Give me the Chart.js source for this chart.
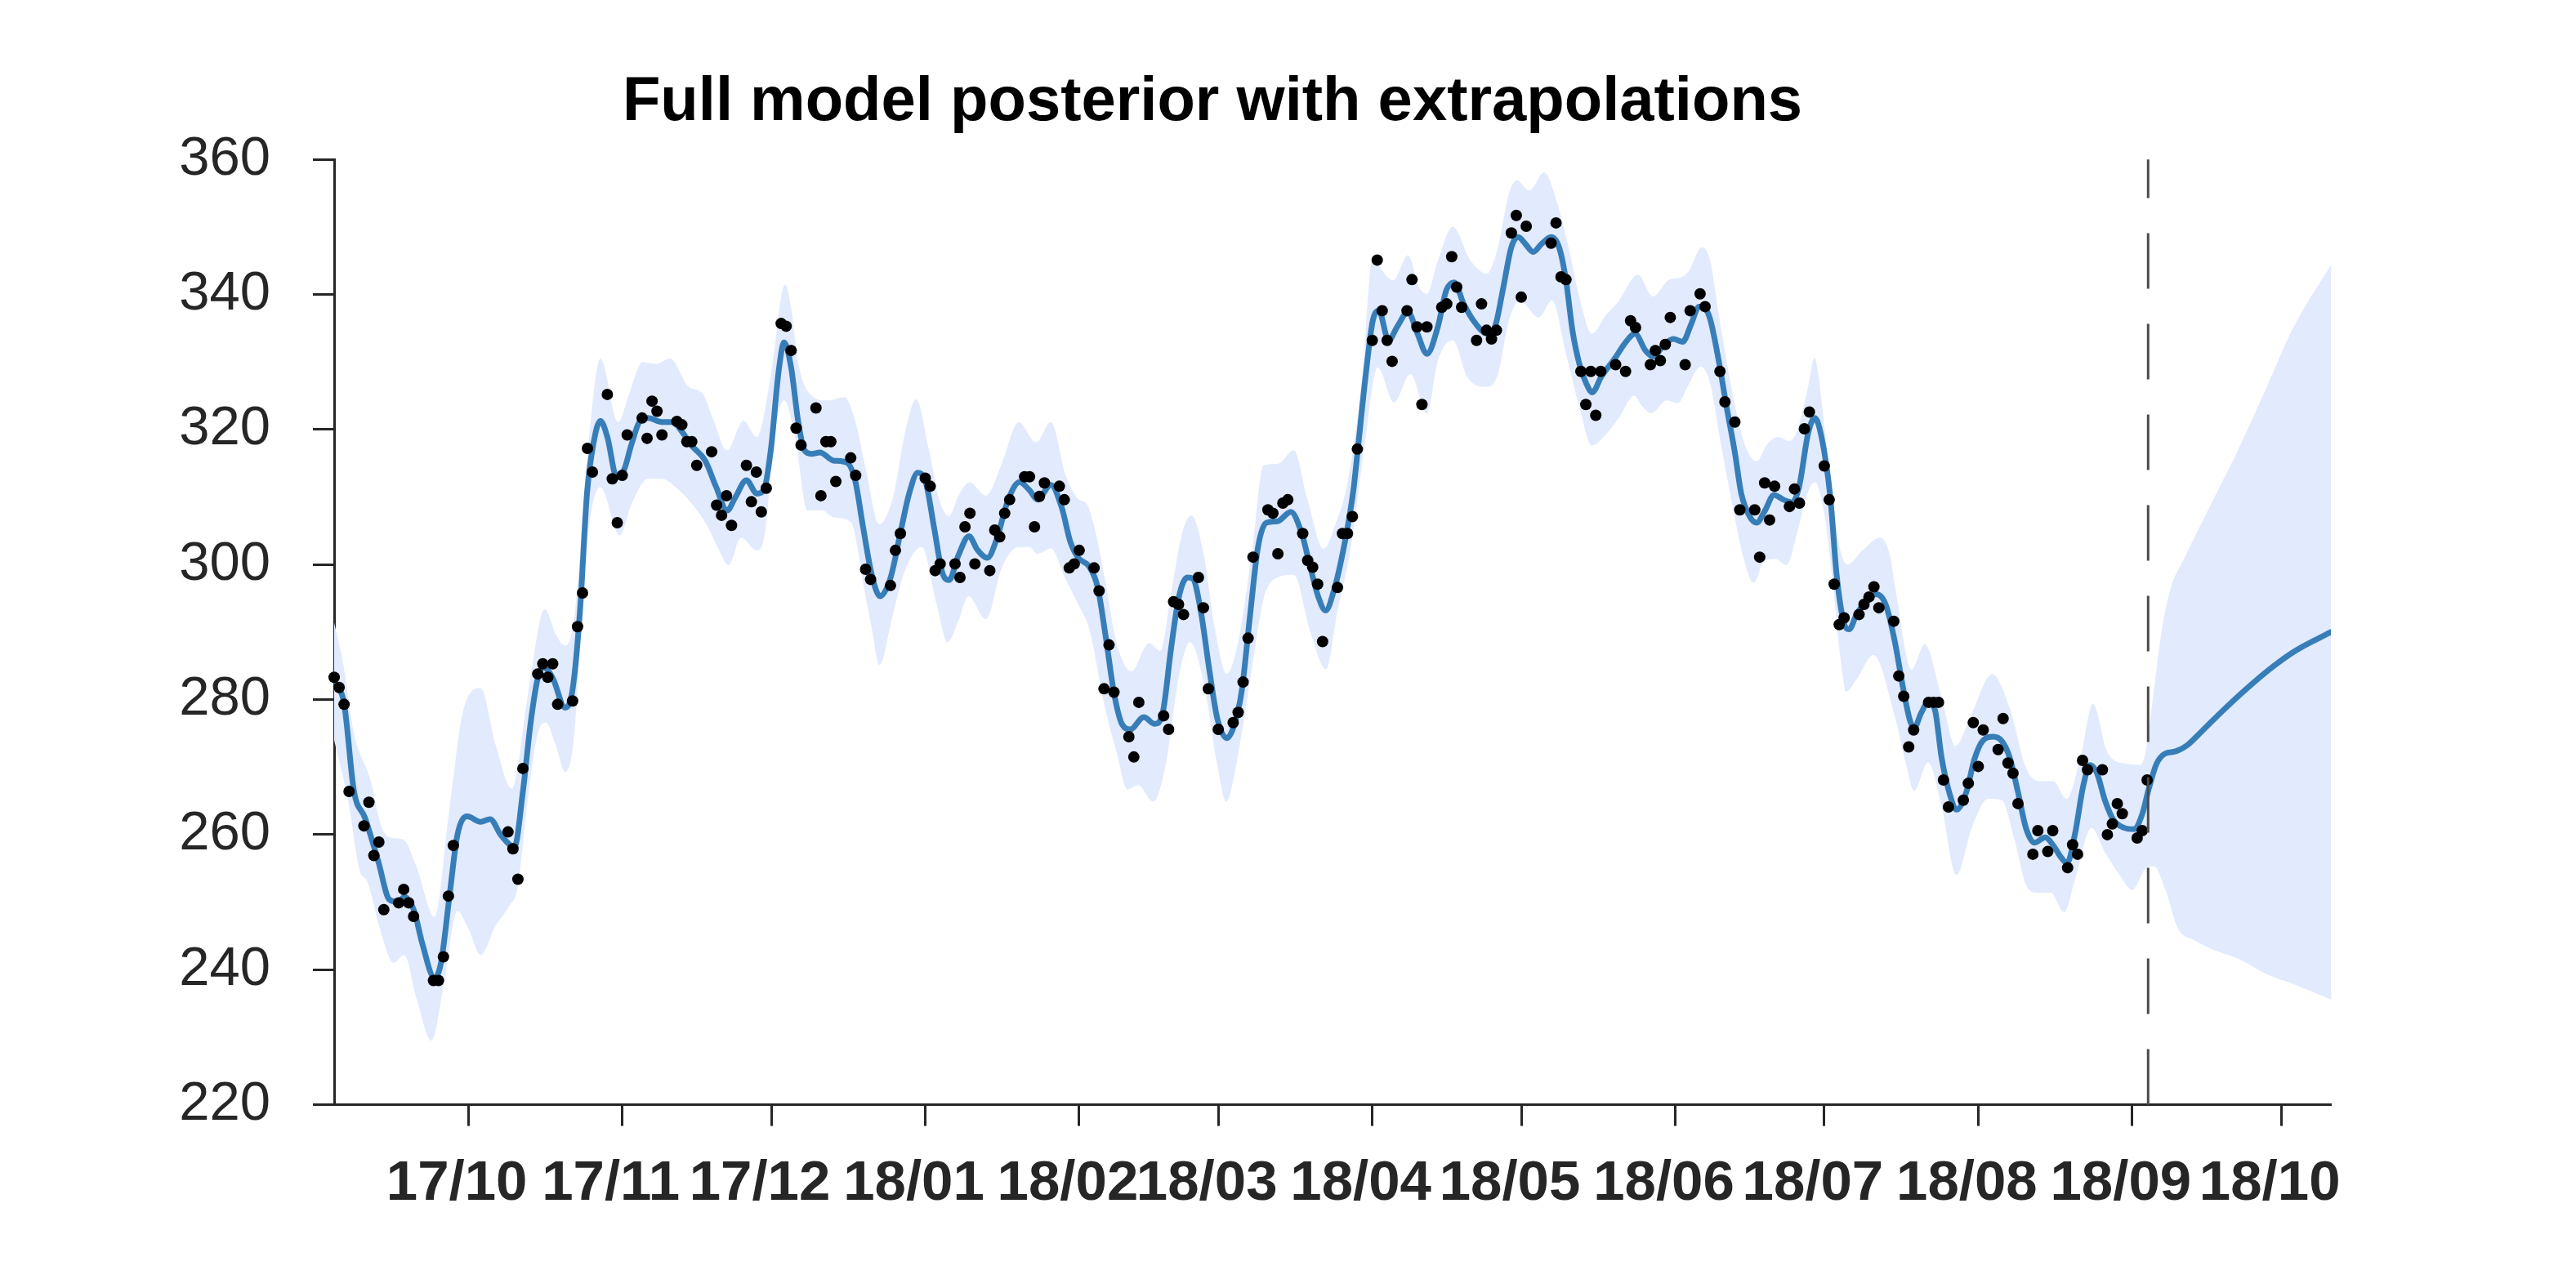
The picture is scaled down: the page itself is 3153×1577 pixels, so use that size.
<!DOCTYPE html>
<html><head><meta charset="utf-8">
<script src="https://cdn.jsdelivr.net/npm/chart.js@4.4.1/dist/chart.umd.min.js"></script>
<style>html,body{margin:0;padding:0;background:#fff;overflow:hidden}canvas{display:block}</style>
</head><body>
<canvas id="c" width="3153" height="1577" style="width:3153px;height:1577px"></canvas>
<script>
// x values are days since 2017-09-04
const titleText = 'Full model posterior with extrapolations';
const monthTickDays = [27, 58, 88, 119, 150, 178, 209, 239, 270, 300, 331, 362, 392];
const monthTickLabels = ['17/10','17/11','17/12','18/01','18/02','18/03','18/04','18/05','18/06','18/07','18/08','18/09','18/10'];
const yMin = 220, yMax = 360, yStep = 20;
const xMin = 0, xMax = 402;
const forecastStartDay = 365.2;

const observations = [
[0,283.3],[1,281.8],[2,279.3],[3,266.4],[6,261.3],[7,264.8],[8,256.9],[9,258.9],[10,248.9],[13,249.9],[14,251.9],[15,249.9],[16,247.9],
[20,238.4],[21,238.4],[22,241.9],[23,250.9],[24,258.4],[35,260.4],[36,257.9],[37,253.4],[38,269.8],[41,283.8],[42,285.3],[43,283.3],[44,285.3],[45,279.3],
[48,279.8],[49,290.8],[50,295.8],[51,317.2],[52,313.7],[55,325.2],[56,312.7],[57,306.2],[58,313.2],[59,319.2],[62,321.7],[63,318.7],[64,324.2],[65,322.7],[66,319.2],
[69,321.2],[70,320.7],[71,318.2],[72,318.2],[73,314.7],[76,316.7],[77,308.8],[78,307.3],[79,310.2],[80,305.8],[83,314.7],[84,309.3],[85,313.7],[86,307.8],[87,311.3],
[90,335.7],[91,335.3],[92,331.7],[93,320.2],[94,317.7],[97,323.2],[98,310.2],[99,318.2],[100,318.2],[101,312.3],[104,315.8],[105,313.2],[107,299.3],[108,297.8],
[112,296.9],[113,302.1],[114,304.6],[119,312.8],[120,311.6],[121,299.1],[122,300.1],[125,300.1],[126,298.1],[127,305.6],[128,307.6],[129,300.1],
[132,299.1],[133,305.1],[134,304.1],[135,307.6],[136,309.6],[139,313.0],[140,313.0],[141,305.6],[142,310.1],[143,312.1],[146,311.6],[147,309.6],[148,299.5],[149,300.1],[150,302.1],
[153,299.5],[154,296.1],[155,281.6],[156,288.1],[157,281.1],[160,274.5],[161,271.5],[162,279.6],[167,277.6],[168,275.6],[169,294.5],[170,294.1],[171,292.6],
[174,298.1],[175,293.6],[176,281.6],[178,275.6],[181,276.6],[182,278.1],[183,282.6],[184,289.1],[185,301.1],[188,308.1],[189,307.6],[190,301.6],[191,309.1],[192,309.6],
[195,304.6],[196,300.6],[197,299.6],[198,297.1],[199,288.6],[202,296.6],[203,304.6],[204,304.6],[205,307.1],[206,317.1],[209,333.2],[210,345.1],[211,337.6],[212,333.2],[213,330.1],
[216,337.6],[217,342.2],[218,335.2],[219,323.7],[220,335.2],[223,338.1],[224,338.6],[225,345.6],[226,341.1],[227,338.1],[230,333.2],[231,338.6],[232,334.7],[233,333.4],[234,334.7],
[237,349.1],[238,351.7],[239,339.6],[240,350.1],[245,347.6],[246,350.6],[247,342.6],[248,342.2],[251,328.6],[252,323.7],[253,328.6],[254,322.1],[255,328.6],
[258,329.6],[260,328.6],[261,336.1],[262,335.1],[265,329.6],[266,331.7],[267,330.2],[268,332.6],[269,336.6],[272,329.6],[273,337.6],[275,340.1],[276,338.2],
[279,328.6],[280,324.1],[282,321.1],[283,308.1],[286,308.1],[287,301.1],[288,312.1],[289,306.6],[290,311.6],[293,308.6],[294,311.2],[295,309.1],[296,320.1],[297,322.6],
[300,314.6],[301,309.6],[302,297.1],[303,291.1],[304,292.1],[307,292.6],[308,294.1],[309,295.2],[310,296.7],[311,293.6],[314,291.6],[315,283.5],[316,280.5],[317,273.0],[318,275.5],
[321,279.6],[322,279.6],[323,279.6],[324,268.1],[325,264.1],[328,265.1],[329,267.6],[330,276.6],[331,270.1],[332,275.5],[335,272.6],[336,277.2],[337,270.6],[338,269.1],[339,264.6],
[342,257.1],[343,260.6],[345,257.5],[346,260.6],[349,255.1],[350,258.5],[351,257.1],[352,271.0],[353,269.6],[356,269.6],[357,260.0],[358,261.6],[359,264.6],[360,263.1],
[363,259.5],[364,260.6],[365,268.1]
];

const meanCurve = [
[0,282.6],[2,279.4],[4,266.4],[6.2,262.5],[8.9,256],[11.1,250.4],[13,250],[14.1,250.8],[16.1,248.7],[17.7,244],[20.2,238.8],[21.5,241],[23.2,250.8],[24.8,259.9],
[26.8,262.7],[29.5,261.9],[31.4,262.3],[33.6,259.9],[36.3,258.2],[38,266.4],[39.6,276.8],[41,283.2],[42.1,284.8],[44,283.2],[46.5,278.8],[48,281.5],[49.5,293.2],
[50.9,310.5],[52.2,317.9],[53.6,321.3],[55,318.9],[56.9,312.9],[58.3,313.9],[59.9,317.9],[61.6,321.3],[63.2,321.7],[66,321.1],[68.1,321.1],[70.3,319.4],[72,317.6],
[74.7,315.4],[76.9,311.5],[79.1,308],[80.8,310],[83,312.5],[85.1,310.5],[86.5,311],[87.9,316.9],[89.5,328.7],[90.6,332.9],[92,329.2],[93.4,321.3],[94.7,316.9],
[96.1,316.4],[97.8,316.6],[100.5,315.4],[103.2,315.1],[104.9,312.4],[106.5,305.5],[108.2,298.6],[109.9,295.3],[112,298],[114.2,305.4],[115.8,310.6],[117.5,313.6],
[119.1,312.2],[120.8,305.4],[122.4,298.9],[123.8,297.7],[125.7,301.4],[127.8,304.2],[129.5,302.2],[131.5,301],[133.4,303.8],[135.6,309.4],[138,312.2],[140,311],
[141.6,309.6],[144.3,311.8],[146.5,308.4],[148.2,303.4],[149.8,301],[152,299.7],[153.7,296.7],[155.3,289.5],[157,281],[158.6,276.4],[160.3,275.6],[163,277.4],
[165.2,276.4],[166.8,278],[168.5,287.6],[170.1,295.3],[171.8,298.1],[172.9,297.9],[174.5,293],[176.2,284.4],[177.8,277.2],[179.7,274.3],[181.1,276],[182.7,281.2],
[184.4,292.5],[186,302.6],[187.7,306.2],[189.9,306.4],[192.6,307.8],[194.8,304.6],[196.5,299.7],[198.1,295.3],[199.6,293.2],[201.4,296.5],[203.6,303.8],[205.2,311],
[206,316.4],[207.7,328.2],[209.1,336.1],[210.3,337.6],[212.3,333.2],[214,335.2],[216.2,337.4],[218.1,334.2],[220,331.2],[222.2,335.2],[223.9,340.6],[225.5,341.8],
[227.4,338.6],[229.9,335.6],[232.1,334.2],[233.7,335.2],[235.4,341.1],[237,347],[238.4,348.5],[239.8,347.5],[241.4,346.3],[243.1,347.5],[245,348.5],[246.6,347],
[248,342.1],[249.3,334.7],[250.7,329.7],[252.1,326.8],[253.3,325.5],[255.1,327.8],[257.8,330.5],[260,332.9],[261.9,334.2],[264,331.7],[265.5,330.8],[267.7,332.5],
[269.6,333.4],[271.5,333],[273.2,335.6],[274.8,338.2],[275.9,338],[277,336.4],[278.7,330.4],[280.3,323.5],[282,316.6],[283.3,310.5],[285,307.1],[286.4,306.2],
[288,307.9],[289.9,310.3],[291.8,309.6],[293.5,309.2],[294.9,311.4],[296.8,319.6],[298.1,321.7],[299.5,318.7],[301.2,310.1],[302.5,298.4],[303.9,291.5],[305,290.4],
[306.6,292.8],[308.5,294.5],[310.5,295.6],[312.4,294],[314.2,288.6],[316,281.2],[317.3,276.8],[318.1,275.8],[319.5,278],[320.9,279.6],[322.3,278.4],[323.6,271.5],
[325.3,265.9],[326.6,263.7],[328.6,266.3],[330.2,271.1],[331.9,273.9],[334,274.5],[335.7,273.9],[337.3,271.5],[339,266.3],[340.6,261],[342.3,258.8],[344.5,259.6],
[346.1,258.4],[347.7,256.6],[348.9,255.8],[350.5,260.2],[352.1,267.1],[353.5,270.3],[354.9,269.1],[356.5,265.1],[358.2,262.2],[360.4,261],[362.3,260.8],[364,263],
[365.3,266.7],[366.9,270.5],[368.6,272],[370.6,272.3],[373,273.2],[376,275.3],[380,278.2],[385,281.6],[390,284.7],[395,287.3],[402,290]
];

const bandUpper = [
[0,291.4],[1.8,285.4],[4,275],[7.3,268.1],[9.5,261.2],[11.7,259.5],[13.9,259.3],[16.6,255.2],[20.2,247.8],[23.2,263.8],[25.9,278.1],[29.5,281.7],[32.5,273.3],
[35.8,266.8],[39.1,281.1],[42.4,293.4],[44.6,289.7],[46.5,288],[48.4,292.5],[50.9,315.4],[53.6,330.5],[57.2,321.1],[59.4,325.3],[62.1,330],[64.9,329.7],[67.6,330.5],
[71.4,326.3],[74.2,325.3],[76.4,321.3],[79.1,316.9],[82.4,321.3],[85.1,318.9],[87.9,327.8],[90.8,341.5],[92,338],[93.4,330],[95.5,325.5],[99.4,324.3],[102.7,324.8],
[104.9,321.3],[107.1,313.9],[109.7,306],[112.6,310.2],[114.8,319.1],[117.2,324.5],[119.7,317.1],[121.9,309.4],[123.8,307.2],[125.7,310.2],[127.9,312.2],[131.2,310.2],
[134.5,315.1],[137.8,321.1],[141.3,318.1],[144.3,321.1],[147.3,313.2],[149.8,309.7],[151.5,309],[153.1,305.4],[155.3,297.3],[157.5,288.5],[160.5,284.2],[164.1,288.4],
[166.3,287.2],[168.5,295.7],[170.7,304.6],[172.6,307.3],[175.1,301.4],[177.3,290.5],[179.7,283.8],[182.2,289.3],[184.9,302.6],[187.1,314.7],[189.9,314.9],[193.2,316.9],
[195.9,309.8],[199.2,302.3],[201.6,306],[204.1,312.4],[206.9,327.2],[209.1,345.5],[211.2,343.3],[213.2,342.1],[216.2,345.8],[218.4,341.1],[220,340.1],[222.2,345],
[225.2,350],[228.8,345],[232.1,343.1],[234.3,347],[236.5,354.9],[238.1,356.9],[240.6,355.4],[243.6,358.1],[246.3,353.4],[248.5,347],[250.7,339.6],[253.2,334.2],
[256.2,337.1],[258.4,338.8],[262.5,342.9],[265.5,339.7],[268.8,342.2],[271,342.5],[272.6,343.3],[275.4,347],[277,345.1],[278.7,337.3],[280.9,327.8],[283.1,320],
[284.7,316.6],[286.4,315.3],[288.5,317.8],[290.7,318.9],[293,318.3],[294.6,320],[296.8,326.5],[298,330.6],[300.1,320],[301.7,309.2],[303.3,301.9],[304.7,300],
[307.7,302.1],[311.3,304],[313.2,301.4],[314.3,296.5],[317.6,284.4],[320.2,288.2],[323.6,280.4],[326.4,273.1],[329.7,278],[333.8,283.8],[337.3,278.8],[340.6,269.9],
[343.4,267.9],[346.1,267.9],[348.8,265.3],[351.6,271.5],[354.1,279.4],[356.8,272.5],[358.2,271.1],[360.9,270.5],[363.6,270.3],[364.7,272.2],[366.4,281.6],[368,290.5],
[369.7,296.4],[372.4,300.8],[377.9,309],[383.4,317.1],[388.9,326],[394.3,334.9],[402,344.4]
];

const bandLower = [
[0,274],[2.9,264.7],[5.1,254.8],[6.7,253],[9.5,245.3],[12,241],[14.1,242.2],[16.6,235.7],[19.6,229.5],[22.1,237.9],[24.8,248.7],[27,246.1],[29.5,242.2],[32.5,246.5],
[35.3,249.5],[36.9,252.1],[39.1,265.9],[41,275],[42.6,276.6],[44.6,273.3],[46.5,269.3],[48.2,273.8],[50.9,303.1],[53.6,311.5],[57.5,304.3],[59.9,309],[63.2,312.7],
[66,312.7],[68.7,311.5],[72,309],[75.3,305.5],[77.5,302.1],[79.4,299.9],[81.9,304],[85.1,302.1],[86.8,305],[88.4,317.9],[90.6,324.3],[92.8,318.9],[95.3,308],
[98.3,308],[100.5,307],[104,306.3],[106.8,296],[108.2,290.7],[109.8,285.1],[112.3,292],[114.8,298.9],[118.3,302.6],[121.3,294.1],[123.5,288.5],[125.7,291.7],
[127.7,295.3],[131.2,291.9],[134.5,299.7],[137.8,302.6],[140,302.6],[141.6,301.6],[144.3,302.4],[147.1,298.1],[149.8,294.1],[152,290.5],[155.3,278.4],[157.5,272.3],
[159.7,266.7],[161.9,267.3],[164.9,264.9],[167.4,270.3],[170.1,283.6],[172.3,288.5],[175.1,282.4],[177.8,270.3],[179.6,264.9],[181.6,270.3],[184.9,285.2],[187.1,294.9],
[189.9,298.1],[193.2,298.5],[196.5,290.1],[199.7,284.5],[201.9,292.7],[204.7,302.6],[207.4,317.4],[210.1,329.2],[213.4,324],[216.7,328.2],[220,322.3],[222.2,330.2],
[225.2,333.2],[228.2,327.7],[232.1,326.3],[234.3,328.2],[236.5,336.1],[238.7,339.1],[242.5,336.6],[245.2,339.1],[248,331.2],[250.7,323.3],[253.2,317.6],[256.2,319.4],
[258.9,322],[261.7,325],[263.3,323.5],[265.2,322.4],[268.3,324.3],[270.5,323.9],[272.6,326.5],[275.1,329.3],[277,326.9],[279.2,317.8],[281.4,309.2],[283.6,301.4],
[285.8,297.3],[288,300.6],[290.2,300.8],[292.4,299.9],[294.6,304.9],[296.8,310.9],[298.1,312.2],[300.1,307.1],[301.7,297.5],[303.3,286],[304.4,281.2],[306.5,283],
[309.9,286.6],[314.3,277.2],[316.5,270.3],[318.1,266.5],[320.9,270.7],[323.6,264.3],[326.6,254],[329.7,261],[333,265.3],[335.7,265.1],[338.4,259],[340.6,252.6],
[342.8,251.4],[345.6,251.4],[348.3,248.5],[350.5,253.4],[353.8,261],[356.5,257.4],[359.3,254.2],[362,251.8],[364.7,255],[366.4,255.3],[368.6,252],[371.3,246],
[374.1,244.5],[377.9,243.1],[383.4,241.6],[388.9,239.4],[394.3,237.9],[402,235.6]
];

const FONT = "'Liberation Sans', Arial, Helvetica, sans-serif";
const AXIS_COLOR = '#262626';
const BAND_COLOR = 'rgb(226,234,253)';
const LINE_COLOR = '#377eb8';

const toXY = arr => arr.map(p => ({x: p[0], y: p[1]}));
Chart.defaults.font.family = FONT;

new Chart(document.getElementById('c').getContext('2d'), {
  type: 'line',
  data: {
    datasets: [
      { data: [{x: forecastStartDay, y: yMin}, {x: forecastStartDay, y: yMax}],
        borderColor: '#4a4a4a', borderWidth: 3, borderDash: [68, 43], pointRadius: 0, fill: false, clip: false },
      { data: toXY(observations), showLine: false, pointRadius: 7, pointHoverRadius: 7,
        pointBackgroundColor: '#000', pointBorderWidth: 0, borderColor: '#000', fill: false, clip: false },
      { data: toXY(meanCurve), borderColor: LINE_COLOR, borderWidth: 7, pointRadius: 0,
        cubicInterpolationMode: 'monotone', fill: false, borderJoinStyle: 'round', borderCapStyle: 'round' },
      { data: toXY(bandUpper), borderWidth: 0, borderColor: 'rgba(0,0,0,0)', backgroundColor: BAND_COLOR,
        pointRadius: 0, cubicInterpolationMode: 'monotone', fill: '+1' },
      { data: toXY(bandLower), borderWidth: 0, borderColor: 'rgba(0,0,0,0)', backgroundColor: BAND_COLOR,
        pointRadius: 0, cubicInterpolationMode: 'monotone', fill: false }
    ]
  },
  options: {
    responsive: false, animation: false, devicePixelRatio: 1, events: [],
    layout: { padding: { left: 115, right: 300, top: 0, bottom: 0 } },
    plugins: {
      legend: { display: false }, tooltip: { enabled: false },
      title: { display: true, text: titleText, color: '#000',
        font: { size: 76, weight: 'bold', family: FONT, lineHeight: 1.2 },
        padding: { top: 80, bottom: 24 } }
    },
    scales: {
      x: {
        type: 'linear', min: xMin, max: xMax,
        afterFit: s => { s.height = 224.4; },
        afterBuildTicks: s => { s.ticks = monthTickDays.map(v => ({ value: v })); },
        ticks: { autoSkip: false, maxRotation: 0, minRotation: 0, padding: 30, labelOffset: -14, color: AXIS_COLOR,
          font: { size: 69, weight: 'bold', family: FONT, lineHeight: 1.2 },
          callback: (v, i) => monthTickLabels[i] },
        grid: { drawOnChartArea: false, drawTicks: true, tickLength: 26, tickWidth: 3, tickColor: AXIS_COLOR },
        border: { display: true, color: AXIS_COLOR, width: 3 }
      },
      y: {
        min: yMin, max: yMax,
        afterFit: s => { s.width = 294; },
        ticks: { stepSize: yStep, padding: 52, color: AXIS_COLOR, font: { size: 67, family: FONT, lineHeight: 1.2 } },
        grid: { drawOnChartArea: false, drawTicks: true, tickLength: 26, tickWidth: 3, tickColor: AXIS_COLOR },
        border: { display: true, color: AXIS_COLOR, width: 3 }
      }
    }
  }
});
</script>
</body></html>
